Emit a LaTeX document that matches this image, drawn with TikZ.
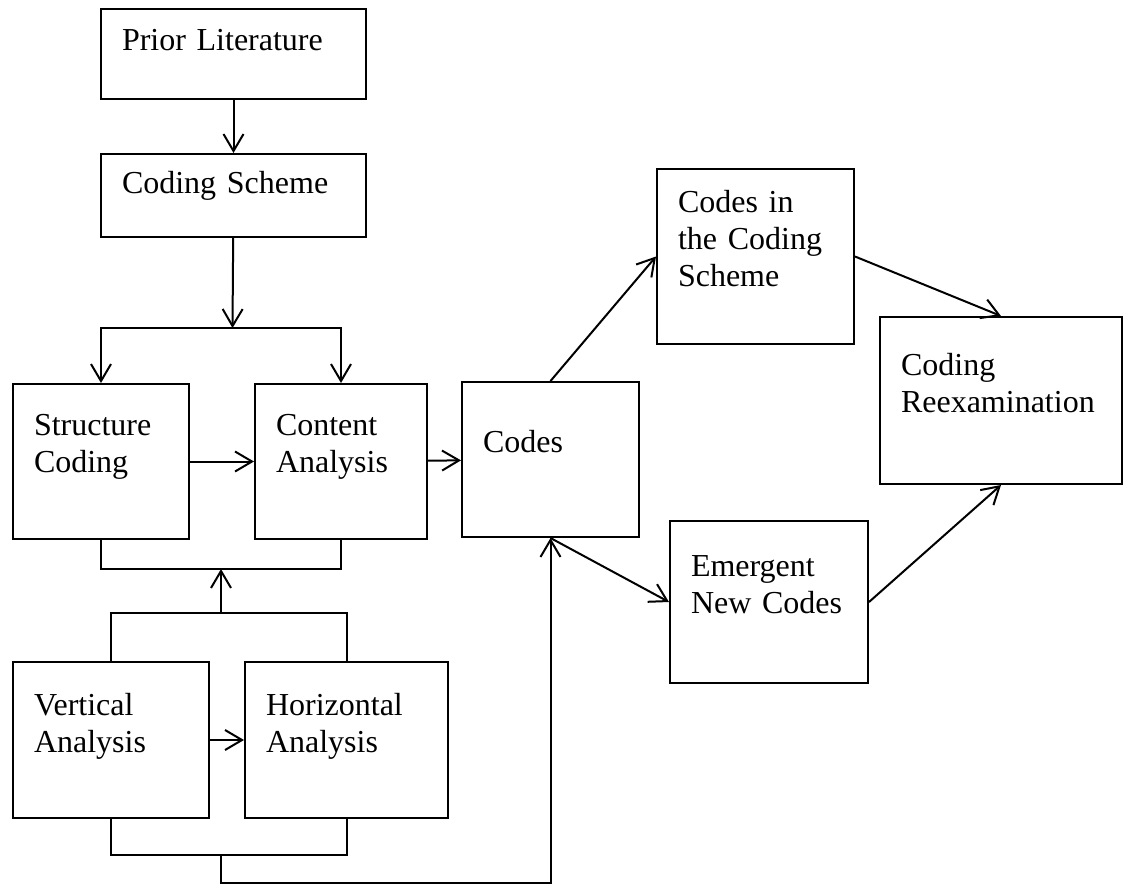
\documentclass[tikz,border=0pt]{standalone}
\usepackage{fontspec}
\setmainfont{Liberation Serif}
\usetikzlibrary{arrows.meta}
\begin{document}
\begin{tikzpicture}[x=0.5pt, y=-0.5pt, line width=1pt,
		box/.style n args={3}{draw, anchor=base west, align=left,
			inner xsep=10.5pt, inner ysep=0pt,
			text width=#1, text height=#2, text depth=#3,
			font=\fontsize{16}{18.5}\selectfont},
		arr/.style={-{Straight Barb[length=8.5pt,width=10pt]}}]
				\useasboundingbox (0,0) rectangle (1123,884);
				\node[box={111.5pt}{20.5pt}{24.5pt}] (prior) at (100,50) {Prior Literature};
				\node[box={111.5pt}{19.5pt}{22pt}] (scheme) at (100,193) {Coding Scheme};
				\node[box={67pt}{25.5pt}{52pt}] (struct) at (12,435) {Structure\\Coding};
				\node[box={65pt}{25.5pt}{52pt}] (content) at (254,435) {Content\\Analysis};
				\node[box={67.5pt}{35pt}{42.5pt}] (codes) at (461,452) {Codes};
				\node[box={77.5pt}{21.5pt}{66pt}] (incodes) at (656,212) {Codes in\\the Coding\\Scheme};
				\node[box={100pt}{29pt}{54.5pt}] (reexam) at (879,375) {Coding\\Reexamination};
				\node[box={78pt}{27.5pt}{53.5pt}] (emergent) at (669,576) {Emergent\\New Codes};
				\node[box={77pt}{26.5pt}{51.5pt}] (vert) at (12,715) {Vertical\\Analysis};
				\node[box={80.5pt}{26.5pt}{51.5pt}] (horiz) at (244,715) {Horizontal\\Analysis};
				\coordinate (split) at (232.5,328);
				\coordinate (merge) at (221,569);
				\coordinate (join) at (221,613);
				\coordinate (low) at (221,855);
				\coordinate (floor) at (221,883);
				\draw[arr] (prior) -- (scheme);
				\draw[arr] (scheme) -- (split);
				\draw[arr] (split) -| (struct);
				\draw[arr] (split) -| (content);
				\draw[arr] (struct) -- (content);
				\draw[arr] (content) -- (codes);
				\draw (struct.south) |- (merge) -| (content.south);
				\draw[arr] (join) -- (merge);
				\draw (vert.north) |- (join) -| (horiz.north);
				\draw[arr] (vert) -- (horiz);
				\draw (vert.south) |- (low) -| (horiz.south);
				\draw[arr] (low) -- (floor) -| (codes.south);
				\draw[arr] (codes.north) -- (incodes.west);
				\draw[arr] (incodes.east) -- (reexam.north);
				\draw[arr] (codes.south) -- (emergent.west);
				\draw[arr] (emergent.east) -- (reexam.south);
			\end{tikzpicture}
\end{document}
